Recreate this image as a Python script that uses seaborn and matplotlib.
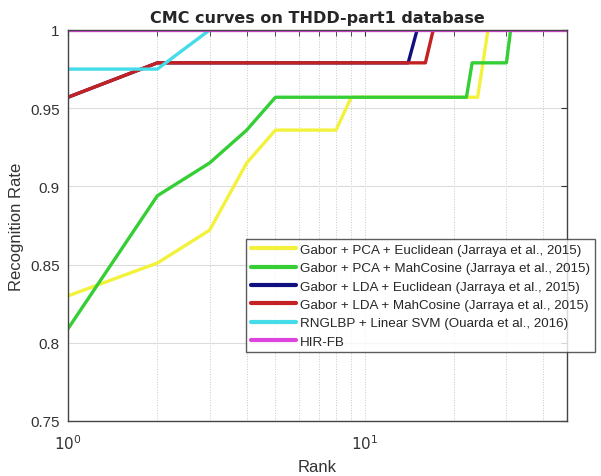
import numpy as np
import pandas as pd
import seaborn as sns
import matplotlib.pyplot as plt
from matplotlib.ticker import LogLocator, NullFormatter, FixedLocator

# values
methods = [
    'Gabor + PCA + Euclidean (Jarraya et al., 2015)',
    'Gabor + PCA + MahCosine (Jarraya et al., 2015)',
    'Gabor + LDA + Euclidean (Jarraya et al., 2015)',
    'Gabor + LDA + MahCosine (Jarraya et al., 2015)',
    'RNGLBP + Linear SVM (Ouarda et al., 2016)',
    'HIR-FB',
]
colors = ['#f2f23c', '#35cf35', '#101080', '#c42222', '#45dbe8', '#dd44dd']

pca_euc_rank = [1, 2, 3, 4, 5, 8, 9, 24, 26, 48]
pca_euc_rate = [0.830, 0.851, 0.872, 0.915, 0.936, 0.936, 0.957, 0.957, 1.0, 1.0]

pca_mah_rank = [1, 2, 3, 4, 5, 22, 23, 30, 31, 48]
pca_mah_rate = [0.809, 0.894, 0.915, 0.936, 0.957, 0.957, 0.979, 0.979, 1.0, 1.0]

lda_euc_rank = [1, 2, 14, 15, 48]
lda_euc_rate = [0.957, 0.979, 0.979, 1.0, 1.0]

lda_mah_rank = [1, 2, 16, 17, 48]
lda_mah_rate = [0.957, 0.979, 0.979, 1.0, 1.0]

rnglbp_rank = [1, 2, 3, 48]
rnglbp_rate = [0.975, 0.975, 1.0, 1.0]

hirfb_rank = [1, 48]
hirfb_rate = [1.0, 1.0]

ranks = [pca_euc_rank, pca_mah_rank, lda_euc_rank, lda_mah_rank, rnglbp_rank, hirfb_rank]
rates = [pca_euc_rate, pca_mah_rate, lda_euc_rate, lda_mah_rate, rnglbp_rate, hirfb_rate]

rows = []
for m, rk, rt in zip(methods, ranks, rates):
    for a, b in zip(rk, rt):
        rows.append({'Method': m, 'Rank': a, 'Rate': b})
df = pd.DataFrame(rows)

sns.set_style('white')
plt.rcParams['font.family'] = ['Liberation Sans', 'DejaVu Sans']

fig = plt.figure(figsize=(6.01, 4.77), dpi=100)
ax = fig.add_axes([68 / 601, 1 - 422 / 477, (567 - 68) / 601, (422 - 31) / 477])

sns.lineplot(data=df, x='Rank', y='Rate', hue='Method', hue_order=methods,
             palette=colors, estimator=None, sort=False, linewidth=2.4,
             ax=ax, legend=True)

ax.set_xscale('log')
ax.set_xlim(1, 48)
ax.set_ylim(0.75, 1.0)
ax.set_yticks([0.75, 0.8, 0.85, 0.9, 0.95, 1.0])
ax.set_yticklabels(['0.75', '0.8', '0.85', '0.9', '0.95', '1'])
ax.xaxis.set_major_locator(FixedLocator([1, 10]))
ax.set_xticklabels(['$10^0$', '$10^1$'])
ax.xaxis.set_minor_locator(LogLocator(base=10, subs=np.arange(2, 10)))
ax.xaxis.set_minor_formatter(NullFormatter())

ax.grid(True, which='major', axis='y', color='#dcdcdc', linewidth=0.8, linestyle='-')
ax.grid(True, which='both', axis='x', color='#c8c8c8', linewidth=0.7, linestyle=':')
ax.set_axisbelow(True)

ax.tick_params(axis='both', which='both', direction='in', top=True, right=True,
               labelsize=11, colors='#333333', length=4)
ax.tick_params(axis='y', which='major', pad=6)
ax.tick_params(axis='x', which='major', pad=9)
for s in ax.spines.values():
    s.set_color('#444444')
    s.set_linewidth(1.0)

ax.set_xlabel('Rank', fontsize=12, color='#333333', labelpad=5)
ax.set_ylabel('Recognition Rate', fontsize=12, color='#333333', labelpad=4)
ax.set_title('CMC curves on THDD-part1 database', fontsize=11.5, fontweight='bold',
             family='DejaVu Sans', pad=6)

leg = ax.legend(loc='upper left', bbox_to_anchor=(246 / 601, 1 - 240 / 477),
                bbox_transform=fig.transFigure, frameon=True, fancybox=False,
                edgecolor='#333333', fontsize=9.6, handlelength=3.4,
                handletextpad=0.3, borderpad=0.35, labelspacing=0.45,
                borderaxespad=0)
leg.get_frame().set_linewidth(1.0)
for line in leg.get_lines():
    line.set_linewidth(3)

fig.savefig('out.png', dpi=100)
